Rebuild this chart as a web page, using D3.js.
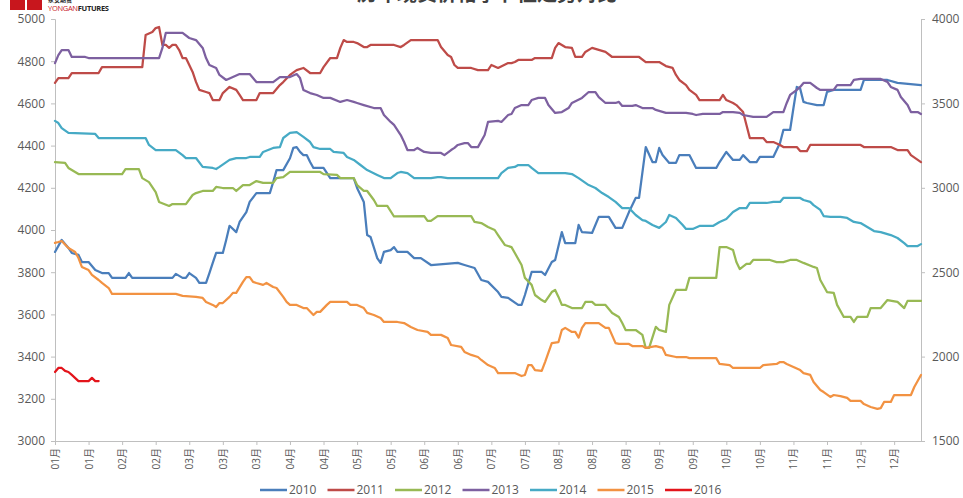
<!DOCTYPE html>
<html>
<head>
<meta charset="utf-8">
<script src="https://cdn.jsdelivr.net/npm/d3@7"></script>
<style>
  html, body { margin: 0; padding: 0; background: #fff; }
  svg { display: block; }
  text { font-family: "Open Sans", "Noto Sans CJK SC", sans-serif; }
</style>
</head>
<body>
<svg id="chart" width="963" height="498"></svg>
<script>
// ---------------- data (index = trading-day position, value = price) ----------------
const seriesNames = ["2010", "2011", "2012", "2013", "2014", "2015", "2016"];
const xTickLabels = ["01月","01月","02月","02月","03月","03月","03月","04月","04月","05月","05月","06月","06月",
                     "07月","07月","08月","08月","08月","09月","09月","10月","10月","11月","11月","12月","12月"];
const leftTicks = [3000, 3200, 3400, 3600, 3800, 4000, 4200, 4400, 4600, 4800, 5000];
const rightTicks = [1500, 2000, 2500, 3000, 3500, 4000];

const s2010 = [[0,3896],[2,3953],[4,3915],[5,3891],[7,3882],[8,3848],[10,3848],[12,3810],[14,3796],[16,3796],[17,3773],
  [21,3773],[22,3796],[23,3773],[35,3773],[36,3792],[38,3773],[39,3773],[40,3796],[42,3773],[43,3749],[45,3749],[46,3796],
  [47,3844],[48,3891],[50,3891],[51,3953],[52,4020],[54,3990],[55,4038],[57,4085],[58,4133],[60,4175],[64,4175],[65,4227],
  [66,4284],[68,4284],[70,4340],[71,4389],[72,4393],[73,4370],[74,4355],[75,4355],[76,4322],[77,4294],[80,4294],[82,4246],
  [89,4246],[90,4199],[92,4133],[93,3976],[94,3967],[96,3867],[97,3844],[98,3896],[100,3905],[101,3919],[102,3896],[105,3896],
  [107,3867],[109,3867],[112,3834],[120,3844],[122,3834],[125,3820],[127,3763],[129,3754],[132,3706],[133,3683],[135,3678],
  [138,3645],[139,3645],[140,3692],[142,3801],[145,3801],[146,3787],[148,3848],[149,3858],[151,3990],[152,3938],[155,3938],
  [156,4024],[157,3990],[160,3986],[162,4062],[165,4062],[167,4010],[169,4010],[171,4085],[173,4152],[174,4152],[176,4393],
  [178,4322],[179,4322],[180,4389],[181,4355],[183,4318],[185,4318],[186,4355],[189,4355],[191,4294],[197,4294],[198,4322],
  [200,4370],[202,4332],[204,4332],[205,4355],[207,4322],[209,4322],[210,4346],[214,4346],[216,4412],[217,4474],[219,4474],
  [220,4578],[221,4678],[222,4670],[223,4607],[224,4602],[227,4592],[229,4592],[230,4654],[232,4664],[240,4664],[241,4711],
  [248,4711],[251,4697],[258,4687]];

const s2011 = [[0,4697],[1,4720],[4,4720],[5,4744],[13,4744],[14,4772],[26,4772],[27,4924],[29,4938],[30,4957],[31,4962],
  [32,4877],[33,4877],[34,4863],[35,4877],[36,4877],[37,4853],[38,4815],[39,4815],[40,4782],[41,4749],[42,4702],[43,4664],
  [45,4654],[46,4649],[47,4616],[49,4616],[50,4649],[52,4678],[54,4664],[55,4640],[56,4616],[60,4616],[61,4649],[65,4649],
  [67,4687],[68,4701],[70,4735],[72,4758],[74,4768],[76,4744],[79,4744],[80,4772],[82,4815],[84,4815],[85,4863],[86,4900],
  [87,4891],[89,4891],[90,4886],[92,4867],[93,4867],[94,4877],[101,4877],[103,4867],[104,4877],[106,4900],[114,4900],
  [115,4867],[117,4829],[118,4820],[119,4782],[120,4768],[124,4768],[126,4758],[129,4758],[130,4782],[132,4768],[135,4791],
  [136,4791],[137,4796],[138,4806],[142,4806],[143,4815],[148,4815],[149,4863],[150,4886],[152,4867],[154,4863],[155,4820],
  [157,4820],[158,4844],[160,4863],[164,4844],[166,4820],[174,4820],[176,4796],[180,4796],[182,4777],[184,4768],[185,4735],
  [186,4711],[188,4687],[189,4664],[191,4640],[192,4616],[198,4616],[199,4640],[200,4616],[202,4602],[203,4592],[205,4559],
  [206,4498],[207,4436],[211,4436],[212,4417],[214,4417],[216,4403],[217,4393],[221,4393],[222,4374],[224,4374],[225,4403],
  [240,4403],[241,4393],[249,4393],[251,4379],[254,4379],[255,4355],[258,4322]];

const s2012 = [[0,4322],[3,4318],[4,4294],[7,4265],[20,4265],[21,4289],[25,4289],[26,4246],[28,4227],[30,4180],[31,4133],
  [34,4114],[35,4123],[39,4123],[41,4166],[42,4175],[44,4185],[47,4185],[48,4204],[50,4199],[53,4199],[54,4185],[56,4213],
  [58,4213],[60,4232],[62,4223],[65,4223],[66,4246],[68,4251],[70,4275],[79,4275],[80,4265],[84,4261],[85,4246],[89,4246],
  [90,4213],[92,4185],[93,4185],[95,4142],[96,4114],[99,4114],[101,4064],[110,4066],[111,4043],[112,4043],[114,4066],
  [124,4066],[125,4038],[127,4033],[129,4014],[131,4000],[132,3976],[134,3929],[136,3919],[137,3891],[139,3834],[140,3773],
  [142,3740],[143,3692],[145,3668],[146,3659],[148,3706],[149,3716],[150,3683],[151,3645],[152,3645],[154,3630],[157,3630],
  [158,3659],[160,3659],[161,3645],[164,3645],[166,3607],[168,3588],[169,3559],[170,3526],[173,3526],[175,3503],[176,3441],
  [177,3441],[179,3541],[180,3526],[182,3517],[183,3645],[185,3716],[188,3716],[189,3773],[197,3773],[198,3919],[200,3919],
  [202,3905],[203,3848],[204,3815],[206,3839],[207,3839],[208,3858],[213,3858],[215,3848],[217,3848],[219,3858],[221,3858],
  [223,3844],[226,3825],[227,3820],[228,3763],[230,3706],[232,3702],[233,3645],[235,3588],[237,3588],[238,3564],[239,3588],
  [242,3588],[243,3630],[246,3630],[248,3668],[251,3659],[253,3630],[254,3664],[258,3664]];

const s2013 = [[0,4791],[1,4829],[2,4853],[4,4853],[5,4820],[9,4820],[10,4815],[31,4815],[32,4863],[33,4934],[38,4934],
  [40,4910],[42,4900],[44,4863],[45,4815],[46,4782],[48,4768],[49,4735],[51,4711],[53,4725],[55,4739],[58,4739],[60,4701],
  [65,4701],[67,4725],[70,4725],[72,4739],[73,4720],[74,4664],[76,4649],[78,4640],[80,4626],[82,4626],[85,4607],[87,4616],
  [89,4607],[90,4602],[92,4592],[95,4578],[97,4578],[98,4545],[100,4512],[101,4498],[103,4450],[104,4417],[105,4379],
  [107,4379],[108,4389],[110,4370],[112,4365],[115,4365],[116,4355],[118,4379],[119,4389],[120,4403],[122,4412],[123,4412],
  [124,4393],[126,4393],[128,4450],[129,4512],[132,4517],[133,4512],[135,4545],[136,4550],[137,4578],[139,4592],[141,4592],
  [142,4616],[144,4626],[146,4626],[147,4592],[149,4555],[151,4559],[153,4578],[154,4602],[157,4626],[159,4654],[161,4654],
  [162,4630],[164,4602],[167,4602],[168,4607],[169,4588],[172,4588],[173,4592],[175,4578],[178,4578],[179,4569],[182,4555],
  [188,4555],[190,4550],[191,4545],[193,4550],[198,4550],[199,4559],[202,4559],[204,4555],[205,4545],[208,4536],[212,4536],
  [214,4559],[217,4559],[218,4602],[219,4640],[221,4664],[222,4678],[223,4697],[225,4697],[227,4673],[228,4664],[232,4664],
  [233,4687],[237,4687],[238,4711],[240,4716],[246,4716],[248,4702],[249,4678],[251,4664],[252,4630],[254,4592],[255,4559],
  [257,4559],[258,4550]];

const s2014 = [[0,4517],[1,4507],[2,4483],[4,4460],[12,4455],[13,4436],[27,4436],[28,4403],[30,4379],[36,4379],[38,4355],
  [39,4341],[42,4341],[44,4299],[47,4294],[48,4289],[49,4299],[52,4332],[54,4341],[57,4341],[58,4346],[61,4346],[62,4370],
  [65,4389],[67,4393],[68,4436],[70,4460],[72,4464],[74,4441],[76,4417],[77,4393],[79,4384],[82,4384],[83,4370],[86,4365],
  [87,4346],[89,4332],[91,4308],[93,4284],[96,4261],[98,4246],[100,4246],[102,4270],[103,4275],[105,4270],[107,4246],
  [112,4246],[114,4251],[115,4251],[117,4246],[132,4246],[133,4270],[135,4294],[137,4299],[138,4308],[141,4308],[142,4294],
  [144,4270],[152,4270],[154,4265],[156,4246],[159,4213],[161,4199],[163,4175],[165,4156],[167,4133],[169,4104],[171,4104],
  [173,4071],[175,4047],[176,4043],[178,4024],[180,4010],[182,4038],[183,4071],[185,4057],[187,4024],[188,4005],[190,4005],
  [192,4019],[196,4019],[198,4038],[200,4052],[202,4085],[204,4104],[206,4104],[207,4128],[212,4128],[214,4133],[216,4133],
  [217,4152],[222,4152],[223,4142],[225,4133],[226,4118],[228,4095],[229,4066],[231,4062],[234,4062],[236,4057],[238,4038],
  [240,4033],[242,4014],[244,3995],[246,3990],[249,3976],[251,3962],[253,3938],[254,3924],[257,3924],[258,3933]];

const s2015 = [[0,3939],[1,3943],[2,3948],[4,3915],[6,3896],[7,3867],[8,3825],[10,3810],[11,3787],[13,3763],[14,3749],
  [16,3725],[17,3697],[36,3697],[38,3688],[42,3683],[44,3678],[45,3659],[47,3645],[48,3635],[49,3654],[50,3654],[52,3683],
  [53,3702],[54,3702],[56,3754],[57,3777],[58,3777],[59,3754],[60,3749],[62,3740],[63,3749],[65,3730],[66,3725],[68,3683],
  [69,3659],[70,3645],[72,3645],[74,3630],[75,3630],[77,3597],[78,3612],[79,3612],[81,3645],[82,3659],[87,3659],[88,3645],
  [90,3645],[92,3630],[93,3607],[95,3597],[97,3583],[98,3564],[102,3564],[104,3559],[106,3540],[108,3526],[111,3517],
  [112,3503],[115,3503],[117,3488],[118,3455],[121,3446],[122,3422],[124,3408],[126,3398],[127,3384],[129,3360],[131,3346],
  [132,3322],[137,3322],[139,3308],[140,3313],[141,3360],[142,3360],[143,3336],[145,3332],[146,3374],[148,3464],[150,3469],
  [151,3526],[152,3536],[154,3517],[155,3517],[156,3490],[157,3536],[158,3559],[162,3559],[164,3536],[165,3536],[167,3464],
  [168,3460],[171,3460],[172,3450],[175,3450],[176,3441],[179,3450],[181,3441],[182,3408],[185,3398],[188,3398],[189,3393],
  [197,3393],[198,3365],[201,3360],[202,3346],[210,3346],[211,3360],[215,3365],[216,3374],[217,3374],[218,3365],[220,3351],
  [222,3336],[223,3322],[225,3313],[226,3280],[228,3242],[229,3232],[231,3209],[232,3218],[234,3213],[236,3204],[237,3190],
  [240,3190],[241,3175],[243,3161],[245,3152],[246,3156],[247,3185],[249,3185],[250,3218],[255,3218],[256,3256],[258,3313]];

const s2016 = [[0,3327],[1,3346],[2,3346],[3,3332],[4,3327],[5,3313],[7,3284],[10,3284],[11,3299],[12,3284],[13,3284]];

const seriesData = [s2010, s2011, s2012, s2013, s2014, s2015, s2016];
const seriesColors = ["#4A7EBB", "#BE4B48", "#98B954", "#7D60A0", "#46AAC5", "#F29242", "#E3141B"];

// ---------------- drawing ----------------
const svg = d3.select("#chart");
const plot = { left: 55, right: 921, top: 19, bottom: 441 };

const x = d3.scaleLinear().domain([0, 258]).range([plot.left, plot.right]);
const yL = d3.scaleLinear().domain([3000, 5000]).range([plot.bottom, plot.top]);
const yR = d3.scaleLinear().domain([1500, 4000]).range([plot.bottom, plot.top]);

const axisColor = "#BFBFBF";
const labelColor = "#595959";

// title (mostly above the visible area, as in the reference)
svg.append("text")
  .attr("x", 487).attr("y", 1)
  .attr("text-anchor", "middle")
  .attr("font-family", "Noto Sans CJK SC")
  .attr("font-weight", "bold")
  .attr("font-size", 20)
  .attr("fill", "#404040")
  .text("历年现货价格季节性走势对比");

// logo
const logo = svg.append("g");
logo.append("rect").attr("x", 10).attr("y", 0).attr("width", 15).attr("height", 10).attr("fill", "#C8161D");
logo.append("rect").attr("x", 27).attr("y", 0).attr("width", 15).attr("height", 10).attr("fill", "#C8161D");
logo.append("text").attr("x", 48).attr("y", 1.5).attr("font-size", 6).attr("font-weight", "bold")
  .attr("font-family", "Noto Sans CJK SC").attr("fill", "#333").text("永安期货");
const lt = logo.append("text").attr("x", 48).attr("y", 11).attr("font-size", 7.5)
  .attr("font-family", "Liberation Sans, Arial").attr("letter-spacing", "-0.3");
lt.append("tspan").attr("fill", "#C8161D").text("YONGAN");
lt.append("tspan").attr("fill", "#222").attr("font-weight", "bold").text("FUTURES");

// left axis
const gL = svg.append("g").attr("transform", `translate(${plot.left},0)`)
  .call(d3.axisLeft(yL).tickValues(leftTicks).tickSize(4).tickPadding(6).tickFormat(d3.format("d")));
// right axis
const gR = svg.append("g").attr("transform", `translate(${plot.right},0)`)
  .call(d3.axisRight(yR).tickValues(rightTicks).tickSize(4).tickPadding(7).tickFormat(d3.format("d")));
// bottom axis
const xTickIdx = xTickLabels.map((d, i) => i * 10);
const gB = svg.append("g").attr("transform", `translate(0,${plot.bottom})`)
  .call(d3.axisBottom(x).tickValues(xTickIdx).tickSize(4).tickFormat((d, i) => xTickLabels[i]));
gB.selectAll(".tick text")
  .attr("transform", "rotate(-90)")
  .attr("text-anchor", "end")
  .attr("x", -7).attr("y", 0).attr("dy", "0.35em")
  .attr("font-family", "Noto Sans CJK SC")
  .attr("font-size", 10);

[gL, gR, gB].forEach(g => {
  g.select(".domain").attr("stroke", axisColor).attr("stroke-width", 1);
  g.selectAll(".tick line").attr("stroke", axisColor);
  g.selectAll(".tick text").attr("fill", labelColor);
});
gL.selectAll(".tick text").attr("font-size", 12).attr("font-family", "Open Sans");
gR.selectAll(".tick text").attr("font-size", 12).attr("font-family", "Open Sans");
gB.select(".domain").attr("d", `M${plot.left},0.5H${plot.right}`);
gL.select(".domain").attr("d", `M-4,${plot.top + 0.5}H0.5V${plot.bottom}`);
gR.select(".domain").attr("d", `M4,${plot.top + 0.5}H0.5V${plot.bottom}`);

// lines
const line = d3.line().x(d => x(d[0])).y(d => yL(d[1]));
svg.append("g").selectAll("path")
  .data(seriesData)
  .join("path")
  .attr("d", d => line(d))
  .attr("fill", "none")
  .attr("stroke", (d, i) => seriesColors[i])
  .attr("stroke-width", 2.25)
  .attr("stroke-linejoin", "round")
  .attr("stroke-linecap", "round");

// legend
const legend = svg.append("g").attr("transform", "translate(260,490)");
const item = legend.selectAll("g").data(seriesNames).join("g")
  .attr("transform", (d, i) => `translate(${i * 67.5},0)`);
item.append("line").attr("x1", 0).attr("x2", 27).attr("y1", 0).attr("y2", 0)
  .attr("stroke", (d, i) => seriesColors[i]).attr("stroke-width", 2.5);
item.append("text").attr("x", 29).attr("y", 0).attr("dy", "0.35em")
  .attr("font-size", 12).attr("font-family", "Open Sans").attr("fill", labelColor)
  .text(d => d);
</script>
</body>
</html>
